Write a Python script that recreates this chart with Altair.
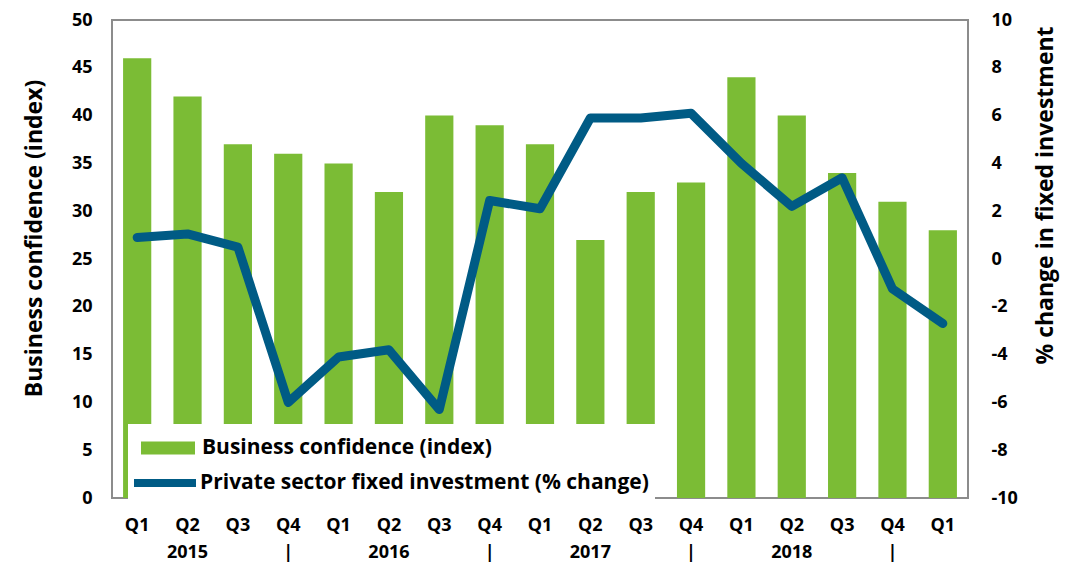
import json
import altair as alt
import pandas as pd

quarters = ["Q1", "Q2", "Q3", "Q4", "Q1", "Q2", "Q3", "Q4", "Q1",
            "Q2", "Q3", "Q4", "Q1", "Q2", "Q3", "Q4", "Q1"]
year_row = ["", "2015", "", "|", "", "2016", "", "|", "",
            "2017", "", "|", "", "2018", "", "|", ""]
confidence = [46, 42, 37, 36, 35, 32, 40, 39, 37, 27, 32, 33, 44, 40, 34, 31, 28]
investment = [0.9, 1.05, 0.5, -6.0, -4.1, -3.8, -6.3, 2.45, 2.1,
              5.9, 5.9, 6.1, 4.0, 2.2, 3.4, -1.25, -2.7]

bar_name = "Business confidence (index)"
line_name = "Private sector fixed investment (% change)"

GREEN = "#7BBC35"
BLUE = "#005B85"
FONT = "Open Sans"

df = pd.DataFrame({
    "idx": list(range(len(quarters))),
    "conf": confidence,
    "inv": investment,
    "bar_s": [bar_name] * len(quarters),
    "line_s": [line_name] * len(quarters),
})

label_expr = "[" + json.dumps(quarters) + "[datum.value], " + json.dumps(year_row) + "[datum.value]]"

x = alt.X(
    "idx:O",
    scale=alt.Scale(paddingInner=0.44, paddingOuter=0.22),
    axis=alt.Axis(
        labelExpr=label_expr, labelAngle=0, domain=False, ticks=False, title=None,
        labelFontSize=18, labelPadding=18, labelLineHeight=27,
    ),
)

bars = alt.Chart(df).mark_bar().encode(
    x=x,
    y=alt.Y(
        "conf:Q",
        scale=alt.Scale(domain=[0, 50], nice=False),
        axis=alt.Axis(
            values=list(range(0, 51, 5)), labelPadding=20, domain=False, ticks=False,
            title="Business confidence (index)", titleFontSize=23, titleAngle=270,
            titleX=-78, titleY=218, titleAlign="center", titleBaseline="middle",
        ),
    ),
    fill=alt.Fill(
        "bar_s:N",
        scale=alt.Scale(domain=[bar_name], range=[GREEN]),
        legend=alt.Legend(
            title=None, orient="none", legendX=16, legendY=394, padding=6,
            symbolType="M-1,-0.24L1,-0.24L1,0.24L-1,0.24Z", symbolSize=2916,
            symbolOffset=6, labelOffset=6, labelFont=FONT, labelFontSize=21,
            labelFontWeight="bold", labelColor="black", labelLimit=700, zindex=2,
        ),
    ),
)

line = alt.Chart(df).mark_line(strokeWidth=9, strokeCap="round", strokeJoin="round").encode(
    x=x,
    y=alt.Y(
        "inv:Q",
        scale=alt.Scale(domain=[-10, 10], nice=False),
        axis=alt.Axis(
            orient="right", values=list(range(-10, 11, 2)), labelPadding=23,
            labelExpr="toString(datum.value)",
            domain=False, ticks=False,
            title="% change in fixed investment", titleFontSize=23, titleAngle=270,
            titleX=77, titleY=175, titleAlign="center", titleBaseline="middle",
        ),
    ),
    stroke=alt.Stroke(
        "line_s:N",
        scale=alt.Scale(domain=[line_name], range=[BLUE]),
        legend=alt.Legend(
            title="\u00a0", titleFontSize=14, titlePadding=4, orient="none",
            legendX=16, legendY=404, padding=6, fillColor="white",
            symbolType="stroke", symbolSize=3844, symbolStrokeWidth=8,
            symbolOffset=-4, labelOffset=0, labelFont=FONT, labelFontSize=21,
            labelFontWeight="bold", labelColor="black", labelLimit=700, zindex=1,
        ),
    ),
)

chart = alt.layer(bars, line).resolve_scale(y="independent").properties(
    width=856, height=478,
    autosize=alt.AutoSizeParams(type="none"),
    padding={"left": 104, "top": 12, "right": 96, "bottom": 66},
).configure_view(
    stroke="#8C8C8C", strokeWidth=2,
).configure_axis(
    labelFont=FONT, titleFont=FONT, labelFontWeight="bold", titleFontWeight="bold",
    labelColor="black", titleColor="black", grid=False, labelFontSize=18,
).configure_legend(
    titleFont=FONT,
)

chart.save("out.html", embed_options={"renderer": "svg", "actions": False})
